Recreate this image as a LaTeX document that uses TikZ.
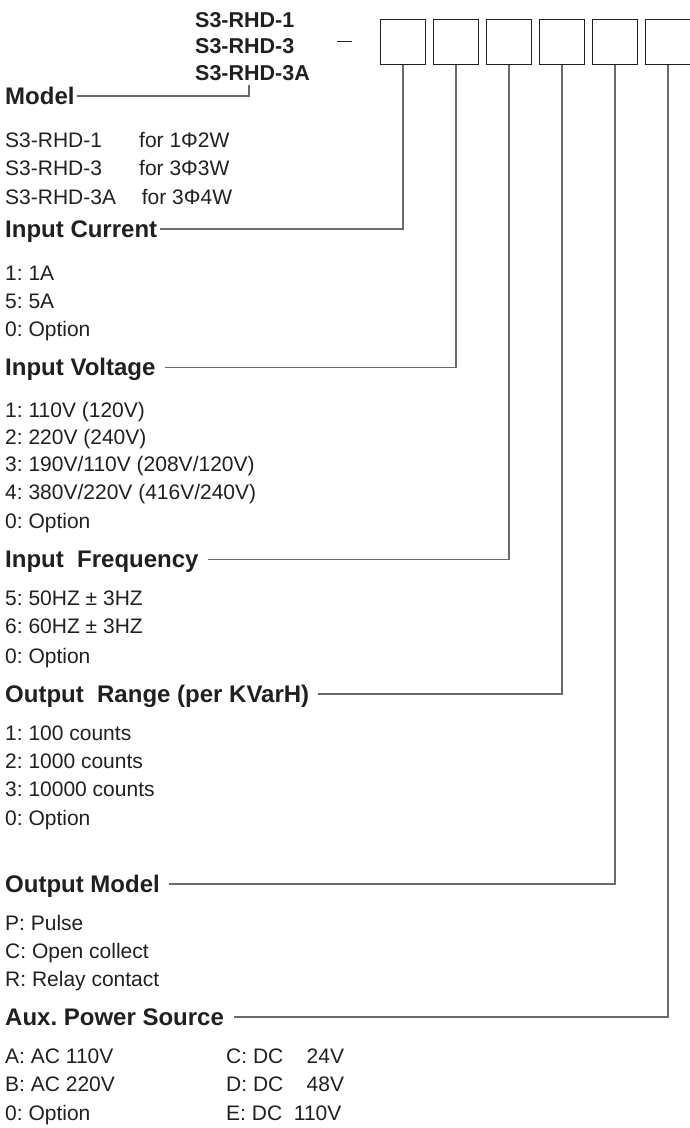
\documentclass[tikz,border=0pt]{standalone}
\usepackage{fontspec}
\usepackage{tikz}
\usetikzlibrary{positioning}

\newfontfamily\arialfont{Liberation Sans}
\newcommand\itemfont{\arialfont\fontsize{21}{25}\selectfont}
\newcommand\headfont{\arialfont\bfseries\fontsize{24}{28}\selectfont}
\newcommand\typefont{\arialfont\bfseries\fontsize{21.5}{25}\selectfont}
\frenchspacing

\definecolor{ink}{HTML}{231F20}
\definecolor{leadgray}{HTML}{6A6A6A}

\tikzset{
    head/.style = {anchor=west, inner sep=0pt, text=ink, font=\headfont,
                   text height=16.8pt, text depth=0pt},
    item/.style = {anchor=west, inner sep=0pt, text=ink, font=\itemfont,
                   text height=15pt, text depth=0pt},
    typename/.style = {anchor=west, inner sep=0pt, text=ink, font=\typefont,
                   text height=15.4pt, text depth=0pt},
    slot/.style = {draw=ink, line width=0.9pt, minimum width=45.5pt,
                   minimum height=45pt, inner sep=0pt},
    lead/.style = {draw=leadgray, line width=1.1pt},
}

\begin{document}
\begin{tikzpicture}[x=1pt, y=-1pt]
    \useasboundingbox (0,0) rectangle (690,1128);

    % code boxes
    \foreach \i in {1,...,6}
        \node[slot] (s\i) at ({350+53*\i}, 41.8) {};

    % model names on top
    \node[typename] (t1) at (195, 20)   {S3-RHD-1};
    \node[typename] (t2) at (195, 46)   {S3-RHD-3};
    \node[typename] (t3) at (195, 72.5) {S3-RHD-3A};
    \draw[ink, line width=0.9pt] (337, 41.7) -- (352, 41.7);

    % Model
    \node[head] (model) at (5, 96) {Model};
    \coordinate (mtop) at (249, 85);
    \draw[lead] ([xshift=2pt]model.east) -| (mtop);
    \node[item] (m1) at (5, 140)   {S3-RHD-1};
    \node[item] (m2) at (5, 168.3) {S3-RHD-3};
    \node[item] (m3) at (5, 197)   {S3-RHD-3A};
    \node[item] (f1) at (139, 140)   {for 1Φ2W};
    \node[item] (f2) at (139, 168.3) {for 3Φ3W};
    \node[item] (f3) at (141.7, 197) {for 3Φ4W};

    % Input Current
    \node[head] (cur) at (5, 229) {Input Current};
    \draw[lead] ([xshift=3pt]cur.east) -| (s1.south);
    \node[item] (c1) at (5, 273) {1: 1A};
    \node[item] (c2) at (5, 301) {5: 5A};
    \node[item] (c3) at (5, 329) {0: Option};

    % Input Voltage
    \node[head] (volt) at (5, 367.5) {Input Voltage};
    \draw[lead] ([xshift=9pt]volt.east) -| (s2.south);
    \node[item] (v1) at (5, 409.5) {1: 110V (120V)};
    \node[item] (v2) at (5, 436.5) {2: 220V (240V)};
    \node[item] (v3) at (5, 464)   {3: 190V/110V (208V/120V)};
    \node[item] (v4) at (5, 492)   {4: 380V/220V (416V/240V)};
    \node[item] (v5) at (5, 521)   {0: Option};

    % Input Frequency
    \node[head] (freq) at (5, 559.5) {Input\ \ Frequency};
    \draw[lead] ([xshift=9pt]freq.east) -| (s3.south);
    \node[item] (q1) at (5, 598) {5: 50HZ ± 3HZ};
    \node[item] (q2) at (5, 626) {6: 60HZ ± 3HZ};
    \node[item] (q3) at (5, 656) {0: Option};

    % Output Range
    \node[head] (range) at (5, 694) {Output\ \ Range (per KVarH)};
    \draw[lead] ([xshift=9pt]range.east) -| (s4.south);
    \node[item] (r1) at (5, 732.5) {1: 100 counts};
    \node[item] (r2) at (5, 761)   {2: 1000 counts};
    \node[item] (r3) at (5, 789)   {3: 10000 counts};
    \node[item] (r4) at (5, 817.5) {0: Option};

    % Output Model
    \node[head] (omod) at (5, 884) {Output Model};
    \draw[lead] ([xshift=9pt]omod.east) -| (s5.south);
    \node[item] (o1) at (5, 922.5) {P: Pulse};
    \node[item] (o2) at (5, 951)   {C: Open collect};
    \node[item] (o3) at (5, 979)   {R: Relay contact};

    % Aux. Power Source
    \node[head] (aux) at (5, 1017) {Aux. Power Source};
    \draw[lead] ([xshift=10pt]aux.east) -| (s6.south);
    \node[item] (a1) at (5, 1055.5) {A: AC 110V};
    \node[item] (a2) at (5, 1084)   {B: AC 220V};
    \node[item] (a3) at (5, 1113)   {0: Option};
    \node[item] (a4) at (226, 1055.5) {C: DC\ \ \phantom{1}24V};
    \node[item] (a5) at (226, 1084)   {D: DC\ \ \phantom{1}48V};
    \node[item] (a6) at (226, 1113)   {E: DC\ \ 110V};

\end{tikzpicture}
\end{document}
